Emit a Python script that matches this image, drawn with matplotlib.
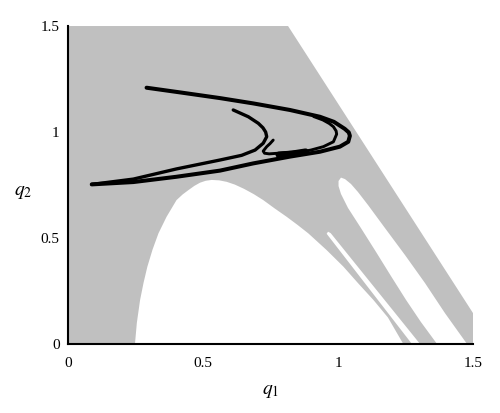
import numpy as np
import matplotlib
matplotlib.use('Agg')
import matplotlib.pyplot as plt

plt.rcParams['font.family'] = 'Liberation Serif'
plt.rcParams['mathtext.fontset'] = 'stix'

gray = '#c0c0c0'

# basin (gray) outer boundary
basin_q1 = [0, 0, 0.815, 1.5, 1.5]
basin_q2 = [0, 1.5, 1.5, 0.146, 0]

# big white hole under the attractor
hole1_q1 = [0.248, 0.255, 0.267, 0.280, 0.294, 0.313, 0.335, 0.365, 0.402, 0.425,
            0.446, 0.468, 0.489, 0.510, 0.532, 0.560, 0.588, 0.618, 0.652, 0.688,
            0.723, 0.765, 0.810, 0.850, 0.890, 0.958, 1.020, 1.075, 1.131, 1.185, 1.242]
hole1_q2 = [0.0, 0.100, 0.208, 0.290, 0.365, 0.445, 0.522, 0.600, 0.679, 0.706,
            0.726, 0.746, 0.761, 0.770, 0.774, 0.772, 0.765, 0.752, 0.732, 0.707,
            0.679, 0.640, 0.600, 0.562, 0.522, 0.443, 0.365, 0.286, 0.208, 0.125, 0.0]

# thin sliver
hole2_q1 = [0.963, 0.958, 1.274, 1.304, 0.973]
hole2_q2 = [0.530, 0.520, 0.0, 0.0, 0.523]

# elongated hole
hole3_q1 = [1.011, 1.002, 1.002, 1.011, 1.037, 1.085, 1.141, 1.196, 1.252, 1.307, 1.367,
            1.478, 1.396, 1.322, 1.248, 1.174, 1.111, 1.074, 1.048, 1.026]
hole3_q2 = [0.785, 0.769, 0.745, 0.708, 0.642, 0.547, 0.434, 0.321, 0.208, 0.104, 0.0,
            0.0, 0.146, 0.288, 0.420, 0.547, 0.656, 0.717, 0.755, 0.778]

# attractor strands
outer_q1 = [0.291, 0.42, 0.563, 0.686, 0.822, 0.933, 0.985, 1.025, 1.040, 1.044,
            1.038, 1.007, 0.933, 0.822, 0.686, 0.563, 0.402, 0.242, 0.088]
outer_q2 = [1.209, 1.186, 1.160, 1.135, 1.104, 1.072, 1.048, 1.015, 0.998, 0.982,
            0.954, 0.931, 0.907, 0.884, 0.852, 0.818, 0.789, 0.764, 0.753]

c_q1 = [0.612, 0.668, 0.705, 0.722, 0.732, 0.736, 0.723, 0.693, 0.643, 0.563,
        0.402, 0.242, 0.088]
c_q2 = [1.104, 1.072, 1.041, 1.020, 1.000, 0.978, 0.947, 0.915, 0.890, 0.868,
        0.826, 0.778, 0.753]

inner_q1 = [0.910, 0.944, 0.968, 0.983, 0.993, 0.995, 0.983, 0.946, 0.900, 0.830]
inner_q2 = [1.073, 1.057, 1.040, 1.025, 1.005, 0.990, 0.954, 0.931, 0.915, 0.898]

hook_q1 = [0.760, 0.748, 0.736, 0.723, 0.728, 0.745, 0.779, 0.830, 0.872]
hook_q2 = [0.962, 0.945, 0.931, 0.910, 0.900, 0.897, 0.900, 0.905, 0.910]

blob_q1 = [0.78, 0.83, 0.88]
blob_q2 = [0.893, 0.898, 0.908]

fig = plt.figure(figsize=(5, 4.13), dpi=100)
ax = fig.add_axes([0.136, 0.167, 0.81, 0.770])

ax.fill(basin_q1, basin_q2, color=gray, lw=0, zorder=1)
for hq1, hq2 in [(hole1_q1, hole1_q2), (hole2_q1, hole2_q2), (hole3_q1, hole3_q2)]:
    ax.fill(hq1, hq2, color='white', lw=0, zorder=1.1)

kw = dict(color='black', solid_capstyle='round', solid_joinstyle='round', zorder=3)
ax.plot(outer_q1, outer_q2, lw=2.9, **kw)
ax.plot(c_q1, c_q2, lw=2.4, **kw)
ax.plot(inner_q1, inner_q2, lw=2.1, **kw)
ax.plot(hook_q1, hook_q2, lw=2.1, **kw)
ax.plot(blob_q1, blob_q2, lw=4.5, **kw)

ax.set_xlim(0, 1.5)
ax.set_ylim(0, 1.5)
ax.spines['top'].set_visible(False)
ax.spines['right'].set_visible(False)
ax.spines['left'].set_linewidth(1.5)
ax.spines['bottom'].set_linewidth(1.5)
ax.spines['left'].set_zorder(4)
ax.spines['bottom'].set_zorder(4)

ax.set_xticks([0, 0.5, 1, 1.5])
ax.set_xticklabels(['0', '0.5', '1', '1.5'])
ax.set_yticks([0, 0.5, 1, 1.5])
ax.set_yticklabels(['0', '0.5', '1', '1.5'])
ax.tick_params(length=0, labelsize=11, pad=6)
ax.tick_params(axis='x', pad=9)
ax.set_xticks([1.5], minor=True)
ax.tick_params(axis='x', which='minor', direction='in', length=4, width=1.5)

ax.set_xlabel('$q_1$', fontsize=14, labelpad=10)
ax.set_ylabel('$q_2$', fontsize=14, rotation=0)
ax.yaxis.set_label_coords(-0.11, 0.45)

plt.savefig('out.png', dpi=100)
